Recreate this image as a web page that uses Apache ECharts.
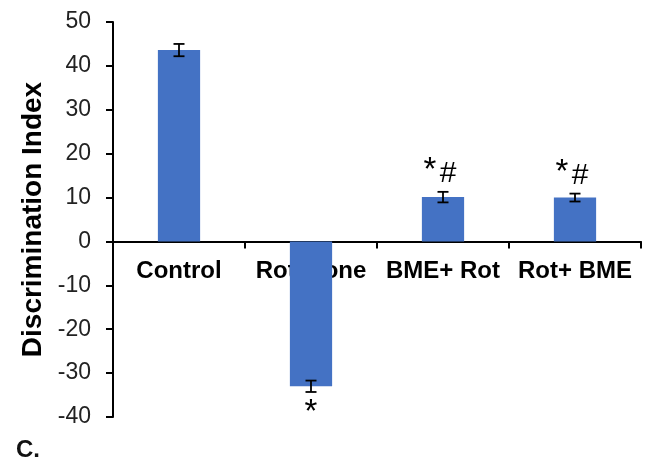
<!DOCTYPE html>
<html>
<head>
<meta charset="utf-8">
<script src="https://cdn.jsdelivr.net/npm/echarts@6/dist/echarts.min.js"></script>
<style>html,body{margin:0;padding:0;background:#fff}#c{width:650px;height:461px}</style>
</head>
<body>
<div id="c"></div>
<script>
var categories = ['Control', 'Rotenone', 'BME+ Rot', 'Rot+ BME'];
var means = [43.6, -33.0, 10.1, 10.0];
var errors = [1.4, 1.3, 1.2, 0.9];
var starMarks = ['', '*', '*', '*'];
var hashMarks = ['', '', '#', '#'];
var yTicks = { min: -40, max: 50, interval: 10 };

var chart = echarts.init(document.getElementById('c'), null, { renderer: 'canvas' });
var errData = categories.map(function (c, i) { return [i, means[i], errors[i]]; });
var labelData = categories.map(function (c, i) { return [i, 0]; });
var FONT = '"Liberation Sans", Arial, sans-serif';

chart.setOption({
  animation: false,
  backgroundColor: '#fff',
  grid: { left: 113, right: 9, top: 22, bottom: 44 },
  xAxis: {
    type: 'category',
    data: categories,
    axisLine: { onZero: true, lineStyle: { color: '#000', width: 2 } },
    axisTick: { show: true, interval: 0, length: 7, lineStyle: { color: '#000', width: 2 } },
    axisLabel: { show: false, interval: 0 }
  },
  yAxis: {
    type: 'value',
    min: yTicks.min, max: yTicks.max, interval: yTicks.interval,
    name: 'Discrimination Index',
    nameLocation: 'middle', nameRotate: 90, nameGap: 66,
    nameTextStyle: { color: '#000', fontSize: 28, fontWeight: 'bold', fontFamily: FONT },
    axisLine: { show: true, lineStyle: { color: '#000', width: 2 } },
    axisTick: { show: true, length: 7, lineStyle: { color: '#000', width: 2 } },
    splitLine: { show: false },
    axisLabel: { margin: 22, color: '#222', fontSize: 23, fontFamily: FONT }
  },
  graphic: [{
    type: 'text', left: 16, top: 438,
    style: { text: 'C.', fontSize: 24, fontWeight: 'bold', fontFamily: FONT, fill: '#111' }
  }],
  series: [{
    type: 'custom',
    data: labelData,
    z: 1,
    silent: true,
    renderItem: function (params, api) {
      var p = api.coord([api.value(0), api.value(1)]);
      return {
        type: 'text',
        style: {
          text: categories[params.dataIndex], x: p[0], y: p[1] + 30,
          fontSize: 24, fontWeight: 'bold', fontFamily: FONT, fill: '#000',
          align: 'center', verticalAlign: 'middle'
        }
      };
    }
  }, {
    type: 'bar',
    data: means,
    barWidth: '32%',
    itemStyle: { color: '#4472C4' },
    z: 3
  }, {
    type: 'custom',
    data: errData,
    z: 5,
    renderItem: function (params, api) {
      var i = api.value(0), m = api.value(1), e = api.value(2);
      var top = api.coord([i, m + e]);
      var bot = api.coord([i, m - e]);
      var x = top[0], hw = 5.5;
      var children = [
        { type: 'line', shape: { x1: x, y1: top[1], x2: x, y2: bot[1] }, style: { stroke: '#000', lineWidth: 1.8 } },
        { type: 'line', shape: { x1: x - hw, y1: top[1], x2: x + hw, y2: top[1] }, style: { stroke: '#000', lineWidth: 1.8 } },
        { type: 'line', shape: { x1: x - hw, y1: bot[1], x2: x + hw, y2: bot[1] }, style: { stroke: '#000', lineWidth: 1.8 } }
      ];
      var idx = params.dataIndex;
      var star = starMarks[idx], hash = hashMarks[idx];
      if (m >= 0) {
        if (star) children.push({ type: 'text', style: { text: star, x: x - 13, y: top[1] - 21, fontSize: 33, fontFamily: FONT, fill: '#000', align: 'center', verticalAlign: 'middle' } });
        if (hash) children.push({ type: 'text', style: { text: hash, x: x + 5, y: top[1] - 18, fontSize: 30, fontFamily: FONT, fill: '#000', align: 'center', verticalAlign: 'middle' } });
      } else {
        if (star) children.push({ type: 'text', style: { text: star, x: x, y: bot[1] + 21, fontSize: 33, fontFamily: FONT, fill: '#000', align: 'center', verticalAlign: 'middle' } });
      }
      return { type: 'group', children: children };
    }
  }]
});
</script>
</body>
</html>
